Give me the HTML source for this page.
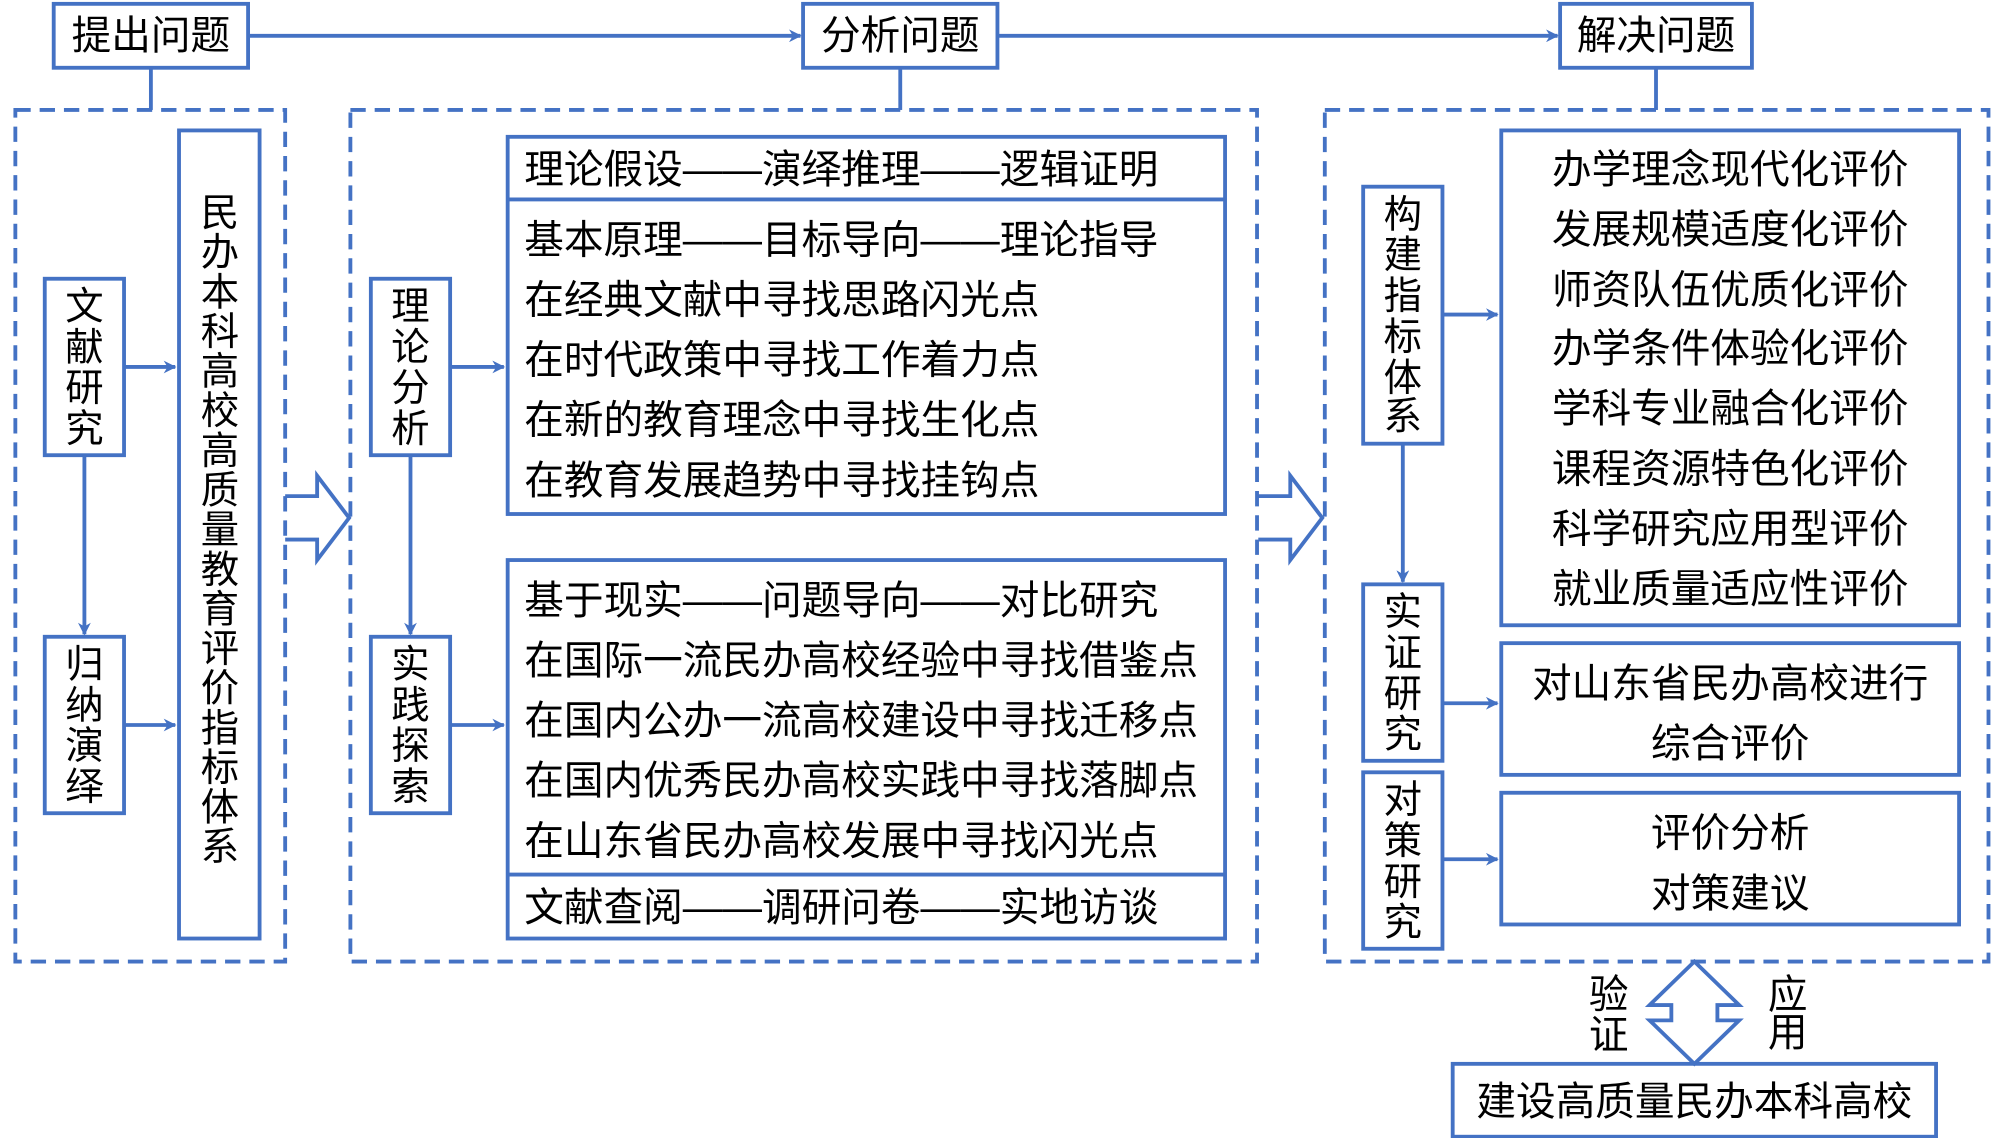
<!DOCTYPE html>
<html><head><meta charset="utf-8"><style>html,body{margin:0;padding:0;background:#fff}svg{display:block}</style></head>
<body>
<svg width="2000" height="1138" viewBox="0 0 1564 890" preserveAspectRatio="none" xmlns="http://www.w3.org/2000/svg" font-family="'Liberation Sans','Noto Sans CJK SC',sans-serif" font-size="31" fill="#000">
<defs><marker id="a" markerWidth="10" markerHeight="10" refX="9" refY="5" orient="auto" markerUnits="userSpaceOnUse"><path d="M0,0 L10,5 L0,10 L3,5 Z" fill="#4472C4"/></marker></defs>
<g stroke="#4472C4" stroke-width="3" fill="none">
<rect x="42" y="3" width="152" height="50"/><rect x="628" y="3" width="152" height="50"/><rect x="1220" y="3" width="150" height="50"/>
<line x1="194" y1="28" x2="626" y2="28" marker-end="url(#a)"/><line x1="780" y1="28" x2="1218" y2="28" marker-end="url(#a)"/>
<line x1="118" y1="53" x2="118" y2="86"/><line x1="704" y1="53" x2="704" y2="86"/><line x1="1295" y1="53" x2="1295" y2="86"/>
<g stroke-dasharray="12,7"><rect x="12" y="86" width="211" height="666"/><rect x="274" y="86" width="709" height="666"/><rect x="1036" y="86" width="519" height="666"/></g>
<rect x="35" y="218" width="62" height="138"/><rect x="35" y="498" width="62" height="138"/><rect x="140" y="102" width="63" height="632"/>
<line x1="66" y1="356" x2="66" y2="496" marker-end="url(#a)"/>
<line x1="97" y1="287" x2="137" y2="287" marker-end="url(#a)"/><line x1="97" y1="567" x2="137" y2="567" marker-end="url(#a)"/>
<path d="M223,388 H248 V372 L273,405 L248,438 V422 H223"/>
<rect x="290" y="218" width="62" height="138"/><rect x="290" y="498" width="62" height="138"/>
<line x1="321" y1="356" x2="321" y2="496" marker-end="url(#a)"/>
<line x1="352" y1="287" x2="394" y2="287" marker-end="url(#a)"/><line x1="352" y1="567" x2="394" y2="567" marker-end="url(#a)"/>
<rect x="397" y="107" width="561" height="295"/><line x1="397" y1="156" x2="958" y2="156"/>
<rect x="397" y="438" width="561" height="296"/><line x1="397" y1="684" x2="958" y2="684"/>
<path d="M984,388 H1009 V372 L1034,405 L1009,438 V422 H984"/>
<rect x="1066" y="146" width="62" height="201"/><rect x="1066" y="457" width="62" height="138"/><rect x="1066" y="604" width="62" height="138"/>
<line x1="1097" y1="347" x2="1097" y2="455" marker-end="url(#a)"/>
<line x1="1128" y1="246" x2="1171" y2="246" marker-end="url(#a)"/><line x1="1128" y1="550" x2="1171" y2="550" marker-end="url(#a)"/><line x1="1128" y1="672" x2="1171" y2="672" marker-end="url(#a)"/>
<rect x="1174" y="102" width="358" height="387"/><rect x="1174" y="503" width="358" height="103"/><rect x="1174" y="620" width="358" height="103"/>
<path d="M1325,752 L1360,786 H1343 V798 H1360 L1325,832 L1290,798 H1307 V786 H1290 Z"/>
<rect x="1136" y="832" width="378" height="57"/>
</g>
<g text-anchor="middle" dominant-baseline="central">
<text x="118" y="28">提出问题</text><text x="704" y="28">分析问题</text><text x="1295" y="28">解决问题</text>
<g font-size="30"><text x="66" y="240">文</text><text x="66" y="272">献</text><text x="66" y="304">研</text><text x="66" y="336">究</text></g>
<g font-size="30"><text x="66" y="520">归</text><text x="66" y="552">纳</text><text x="66" y="584">演</text><text x="66" y="616">绎</text></g>
<g font-size="30"><text x="321" y="240">理</text><text x="321" y="272">论</text><text x="321" y="304">分</text><text x="321" y="336">析</text></g>
<g font-size="30"><text x="321" y="520">实</text><text x="321" y="552">践</text><text x="321" y="584">探</text><text x="321" y="616">索</text></g>
<g font-size="30"><text x="1097" y="168">构</text><text x="1097" y="200">建</text><text x="1097" y="232">指</text><text x="1097" y="264">标</text><text x="1097" y="296">体</text><text x="1097" y="326">系</text></g>
<g font-size="30"><text x="1097" y="479">实</text><text x="1097" y="511">证</text><text x="1097" y="543">研</text><text x="1097" y="575">究</text></g>
<g font-size="30"><text x="1097" y="626">对</text><text x="1097" y="658">策</text><text x="1097" y="690">研</text><text x="1097" y="722">究</text></g>
<g font-size="30"><text x="172" y="167">民</text><text x="172" y="198">办</text><text x="172" y="229">本</text><text x="172" y="260">科</text><text x="172" y="291">高</text><text x="172" y="322">校</text><text x="172" y="353">高</text><text x="172" y="384">质</text><text x="172" y="415">量</text><text x="172" y="446">教</text><text x="172" y="477">育</text><text x="172" y="508">评</text><text x="172" y="539">价</text><text x="172" y="570">指</text><text x="172" y="601">标</text><text x="172" y="632">体</text><text x="172" y="663">系</text></g>
<text x="1353" y="133">办学理念现代化评价</text><text x="1353" y="180">发展规模适度化评价</text><text x="1353" y="227">师资队伍优质化评价</text><text x="1353" y="273">办学条件体验化评价</text><text x="1353" y="320">学科专业融合化评价</text><text x="1353" y="367">课程资源特色化评价</text><text x="1353" y="414">科学研究应用型评价</text><text x="1353" y="461">就业质量适应性评价</text>
<text x="1353" y="535">对山东省民办高校进行</text><text x="1353" y="582">综合评价</text>
<text x="1353" y="652">评价分析</text><text x="1353" y="699">对策建议</text>
<text x="1258" y="778">验</text><text x="1258" y="810">证</text><text x="1398" y="778">应</text><text x="1398" y="808">用</text>
<text x="1325" y="862">建设高质量民办本科高校</text>
</g>
<g dominant-baseline="central">
<text x="410" y="133">理论假设——演绎推理——逻辑证明</text>
<text x="410" y="188">基本原理——目标导向——理论指导</text>
<text x="410" y="235">在经典文献中寻找思路闪光点</text>
<text x="410" y="282">在时代政策中寻找工作着力点</text>
<text x="410" y="329">在新的教育理念中寻找生化点</text>
<text x="410" y="376">在教育发展趋势中寻找挂钩点</text>
<text x="410" y="470">基于现实——问题导向——对比研究</text>
<text x="410" y="517">在国际一流民办高校经验中寻找借鉴点</text>
<text x="410" y="564">在国内公办一流高校建设中寻找迁移点</text>
<text x="410" y="611">在国内优秀民办高校实践中寻找落脚点</text>
<text x="410" y="658">在山东省民办高校发展中寻找闪光点</text>
<text x="410" y="710">文献查阅——调研问卷——实地访谈</text>
</g>
</svg>
</body></html>
